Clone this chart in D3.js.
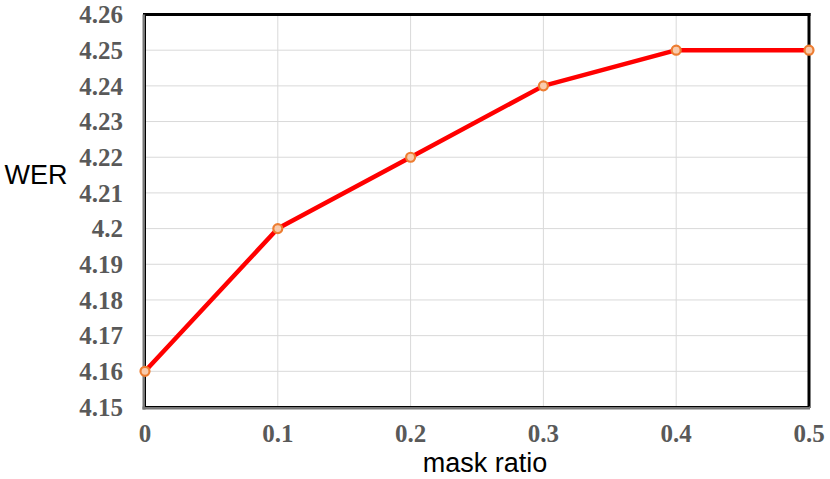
<!DOCTYPE html>
<html><head><meta charset="utf-8">
<script src="https://cdn.jsdelivr.net/npm/d3@7"></script>
<style>body{margin:0;background:#fff;}svg{display:block;}</style>
</head><body><svg id="c" width="830" height="479"></svg>
<script>
const maskRatio = [0, 0.1, 0.2, 0.3, 0.4, 0.5];
const werValues = [4.16, 4.20, 4.22, 4.24, 4.25, 4.25];
const yTicks = [4.15, 4.16, 4.17, 4.18, 4.19, 4.2, 4.21, 4.22, 4.23, 4.24, 4.25, 4.26];
const xTicks = [0, 0.1, 0.2, 0.3, 0.4, 0.5];

const svg = d3.select("#c");
const L = 145, R = 809, T = 14.5, B = 407;
const x = d3.scaleLinear().domain([0, 0.5]).range([L, R]);
const y = d3.scaleLinear().domain([4.15, 4.26]).range([B, T]);

// gridlines
svg.append("g").selectAll("line").data(yTicks.slice(1, -1)).join("line")
  .attr("x1", L).attr("x2", R).attr("y1", d => y(d)).attr("y2", d => y(d))
  .attr("stroke", "#d9d9d9").attr("stroke-width", 1);
svg.append("g").selectAll("line").data(xTicks.slice(1, -1)).join("line")
  .attr("y1", T).attr("y2", B).attr("x1", d => x(d)).attr("x2", d => x(d))
  .attr("stroke", "#d9d9d9").attr("stroke-width", 1);

// frame
svg.append("line").attr("x1", L - 2).attr("x2", R + 1.5).attr("y1", T).attr("y2", T).attr("stroke", "#000").attr("stroke-width", 3);
svg.append("line").attr("x1", R).attr("x2", R).attr("y1", T - 1.5).attr("y2", B + 1).attr("stroke", "#000").attr("stroke-width", 3);
svg.append("line").attr("x1", L - 1).attr("x2", L - 1).attr("y1", T).attr("y2", B + 2.5).attr("stroke", "#777", ).attr("stroke-width", 3);
svg.append("line").attr("x1", L - 2.5).attr("x2", R + 1).attr("y1", B + 1).attr("y2", B + 1).attr("stroke", "#777").attr("stroke-width", 3);
svg.append("line").attr("x1", L + 0.5).attr("x2", L + 0.5).attr("y1", T).attr("y2", B).attr("stroke", "#000").attr("stroke-width", 1);
svg.append("line").attr("x1", L).attr("x2", R).attr("y1", B - 0.5).attr("y2", B - 0.5).attr("stroke", "#000").attr("stroke-width", 1);

// y tick labels
svg.append("g").selectAll("text").data(yTicks).join("text")
  .attr("x", 123).attr("y", d => y(d)).attr("dy", "0.35em")
  .attr("text-anchor", "end")
  .attr("font-family", "'Liberation Serif', 'Times New Roman', serif")
  .attr("font-weight", "bold").attr("font-size", 25).attr("fill", "#595959")
  .text(d => d3.format("")(+d.toFixed(2)));

// x tick labels
svg.append("g").selectAll("text").data(xTicks).join("text")
  .attr("x", d => x(d)).attr("y", 442)
  .attr("text-anchor", "middle")
  .attr("font-family", "'Liberation Serif', 'Times New Roman', serif")
  .attr("font-weight", "bold").attr("font-size", 25).attr("fill", "#595959")
  .text(d => String(d));

// axis titles
svg.append("text").attr("x", 36).attr("y", 175).attr("dy", "0.35em")
  .attr("text-anchor", "middle").attr("font-family", "'Liberation Sans', Arial, sans-serif")
  .attr("font-size", 27).attr("fill", "#000").text("WER");
svg.append("text").attr("x", 485).attr("y", 472)
  .attr("text-anchor", "middle").attr("font-family", "'Liberation Sans', Arial, sans-serif")
  .attr("font-size", 27).attr("fill", "#000").text("mask ratio");

// line
const pts = maskRatio.map((m, i) => [m, werValues[i]]);
svg.append("path").datum(pts)
  .attr("d", d3.line().x(d => x(d[0])).y(d => y(d[1])))
  .attr("fill", "none").attr("stroke", "#ff0000").attr("stroke-width", 4.5)
  .attr("stroke-linejoin", "round");
svg.append("g").selectAll("circle").data(pts).join("circle")
  .attr("cx", d => x(d[0])).attr("cy", d => y(d[1])).attr("r", 4.5)
  .attr("fill", "#f8cbad").attr("stroke", "#ed7d31").attr("stroke-width", 2.2);
</script></body></html>
